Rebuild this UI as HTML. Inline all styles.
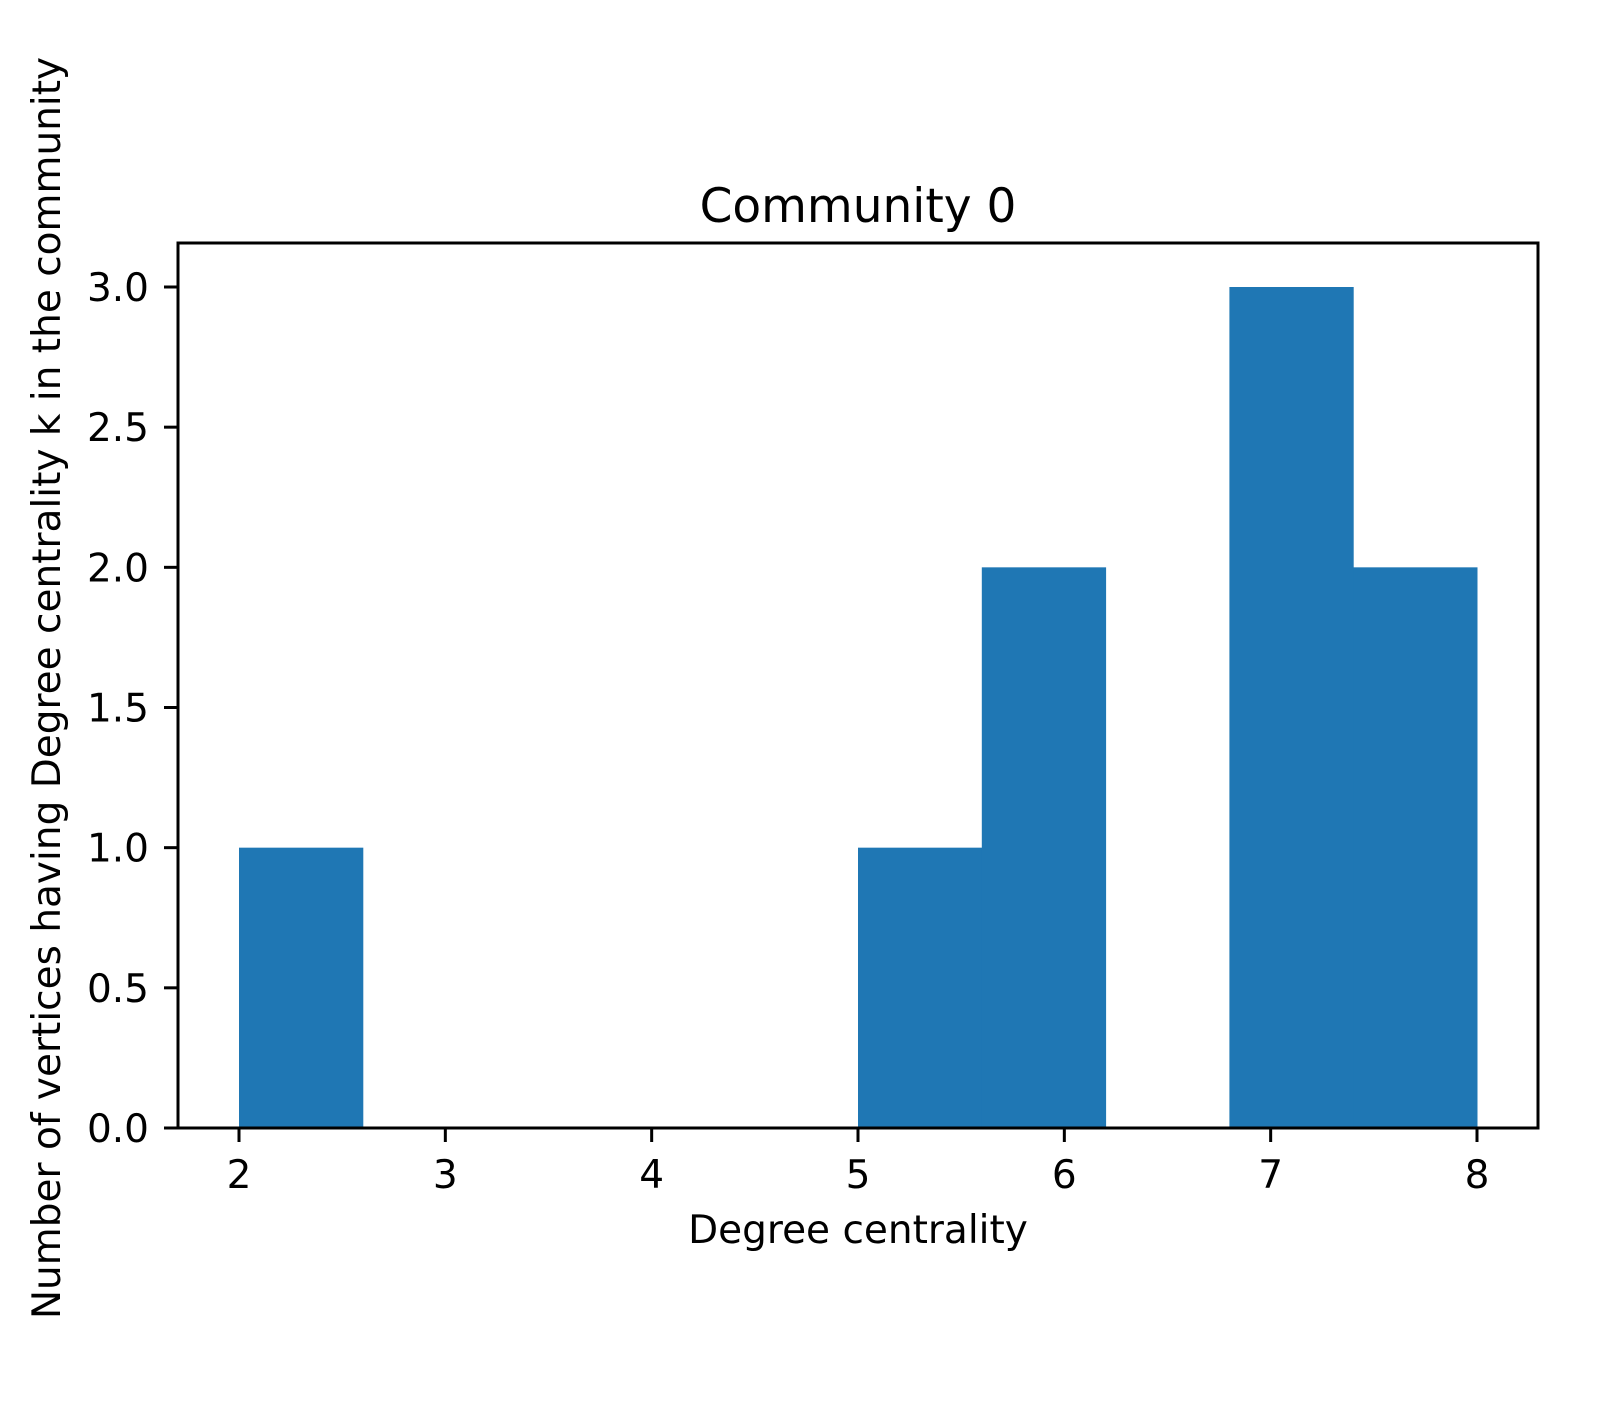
<!DOCTYPE html>
<html><head><meta charset="utf-8"><style>
body{margin:0;background:#fff;}
svg text{font-family:"DejaVu Sans","Liberation Sans",sans-serif;fill:#000;}
</style></head><body>
<svg id="chart" width="1607" height="1407" xmlns="http://www.w3.org/2000/svg">
<rect width="1607" height="1407" fill="#fff"/>
<g id="bars"></g>
<g id="xt"></g><g id="yt"></g>
<rect x="178" y="243" width="1360" height="885" fill="none" stroke="#000" stroke-width="3"/>
<text x="858" y="222" font-size="47" text-anchor="middle">Community 0</text>
<text x="858" y="1243" font-size="39" text-anchor="middle">Degree centrality</text>
<text transform="translate(60,688) rotate(-90)" font-size="39" text-anchor="middle">Number of vertices having Degree centrality k in the community</text>
</svg>
<script>
const binEdges=[2,2.6,3.2,3.8,4.4,5,5.6,6.2,6.8,7.4,8];
const counts=[1,0,0,0,0,1,2,0,3,2];
const xTicks=[2,3,4,5,6,7,8];
const yTicks=[0,0.5,1,1.5,2,2.5,3];
const X=v=>239+(v-2)*(1477-239)/6;
const Y=v=>1128-v*(1128-287)/3;
const ns="http://www.w3.org/2000/svg";
const bars=document.getElementById('bars');
counts.forEach((c,i)=>{if(!c)return;
 const r=document.createElementNS(ns,'rect');
 r.setAttribute('x',X(binEdges[i]));r.setAttribute('width',X(binEdges[i+1])-X(binEdges[i])+0.5);
 r.setAttribute('y',Y(c));r.setAttribute('height',Y(0)-Y(c));r.setAttribute('fill','#1f77b4');
 
 
 bars.appendChild(r);});
const xt=document.getElementById('xt');
xTicks.forEach(t=>{const x=X(t);
 const l=document.createElementNS(ns,'line');l.setAttribute('x1',x);l.setAttribute('x2',x);l.setAttribute('y1',1128);l.setAttribute('y2',1142);l.setAttribute('stroke','#000');l.setAttribute('stroke-width','3');
 
 
 xt.appendChild(l);
 const s=document.createElementNS(ns,'text');s.setAttribute('x',x);s.setAttribute('y',1188);s.setAttribute('font-size','39');s.setAttribute('text-anchor','middle');s.textContent=t;
 
 
 xt.appendChild(s);});
const yt=document.getElementById('yt');
yTicks.forEach(t=>{const y=Y(t);
 const l=document.createElementNS(ns,'line');l.setAttribute('x1',164);l.setAttribute('x2',178);l.setAttribute('y1',y);l.setAttribute('y2',y);l.setAttribute('stroke','#000');l.setAttribute('stroke-width','3');
 
 
 yt.appendChild(l);
 const s=document.createElementNS(ns,'text');s.setAttribute('x',149);s.setAttribute('y',y+14);s.setAttribute('font-size','39');s.setAttribute('text-anchor','end');s.textContent=t.toFixed(1);
 
 
 yt.appendChild(s);});
</script>
</body></html>
